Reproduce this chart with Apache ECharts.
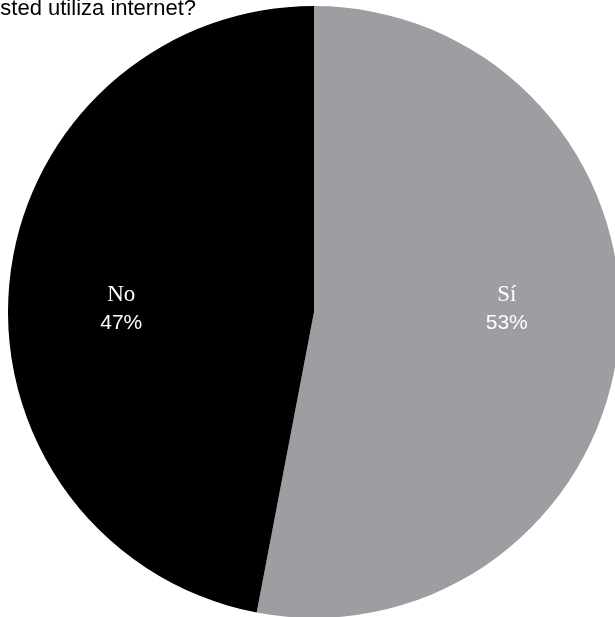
<!DOCTYPE html>
<html>
<head>
<meta charset="utf-8">
<script src="https://cdn.jsdelivr.net/npm/echarts@6/dist/echarts.min.js"></script>
<style>
  html, body { margin: 0; padding: 0; background: #ffffff; }
  #chart { width: 615px; height: 617px; }
</style>
</head>
<body>
<div id="chart"></div>
<script>
// Survey answers and their shares (percent)
const categories = ['Sí', 'No'];
const shares = [53, 47];
const sliceColors = ['#9d9ea2', '#000000'];
const titleText = '¿Usted utiliza internet?';

const chart = echarts.init(document.getElementById('chart'), null, { renderer: 'canvas' });

const pieCenter = [314, 312];
const pieRadius = 306;

chart.setOption({
  animation: false,
  backgroundColor: '#ffffff',
  title: {
    text: titleText,
    left: -29,
    top: -2,
    padding: 0,
    textStyle: {
      fontFamily: 'Liberation Sans, Arial, sans-serif',
      fontSize: 22,
      fontWeight: 'normal',
      color: '#000000'
    }
  },
  series: [{
    type: 'pie',
    center: pieCenter,
    radius: pieRadius,
    startAngle: 90,
    clockwise: true,
    silent: true,
    data: categories.map((name, i) => ({
      name: name,
      value: shares[i],
      itemStyle: { color: sliceColors[i] }
    })),
    label: {
      show: true,
      position: 'inside',
      formatter: p => '{n|' + p.name + '}\n{v|' + p.value + '%}',
      rich: {
        n: {
          fontFamily: 'Liberation Serif, Times New Roman, serif',
          fontSize: 23,
          color: '#ffffff',
          lineHeight: 28
        },
        v: {
          fontFamily: 'Liberation Sans, Arial, sans-serif',
          fontSize: 21,
          color: '#ffffff',
          lineHeight: 28
        }
      }
    },
    // labels sit level with the centre, a fixed fraction of the radius to each side
    labelLayout: function (p) {
      const side = p.dataIndex === 0 ? 1 : -1;
      return {
        x: pieCenter[0] + side * pieRadius * 0.63,
        y: pieCenter[1] - 3,
        align: 'center',
        verticalAlign: 'middle'
      };
    },
    labelLine: { show: false },
    itemStyle: { borderWidth: 0 }
  }]
});
</script>
</body>
</html>
